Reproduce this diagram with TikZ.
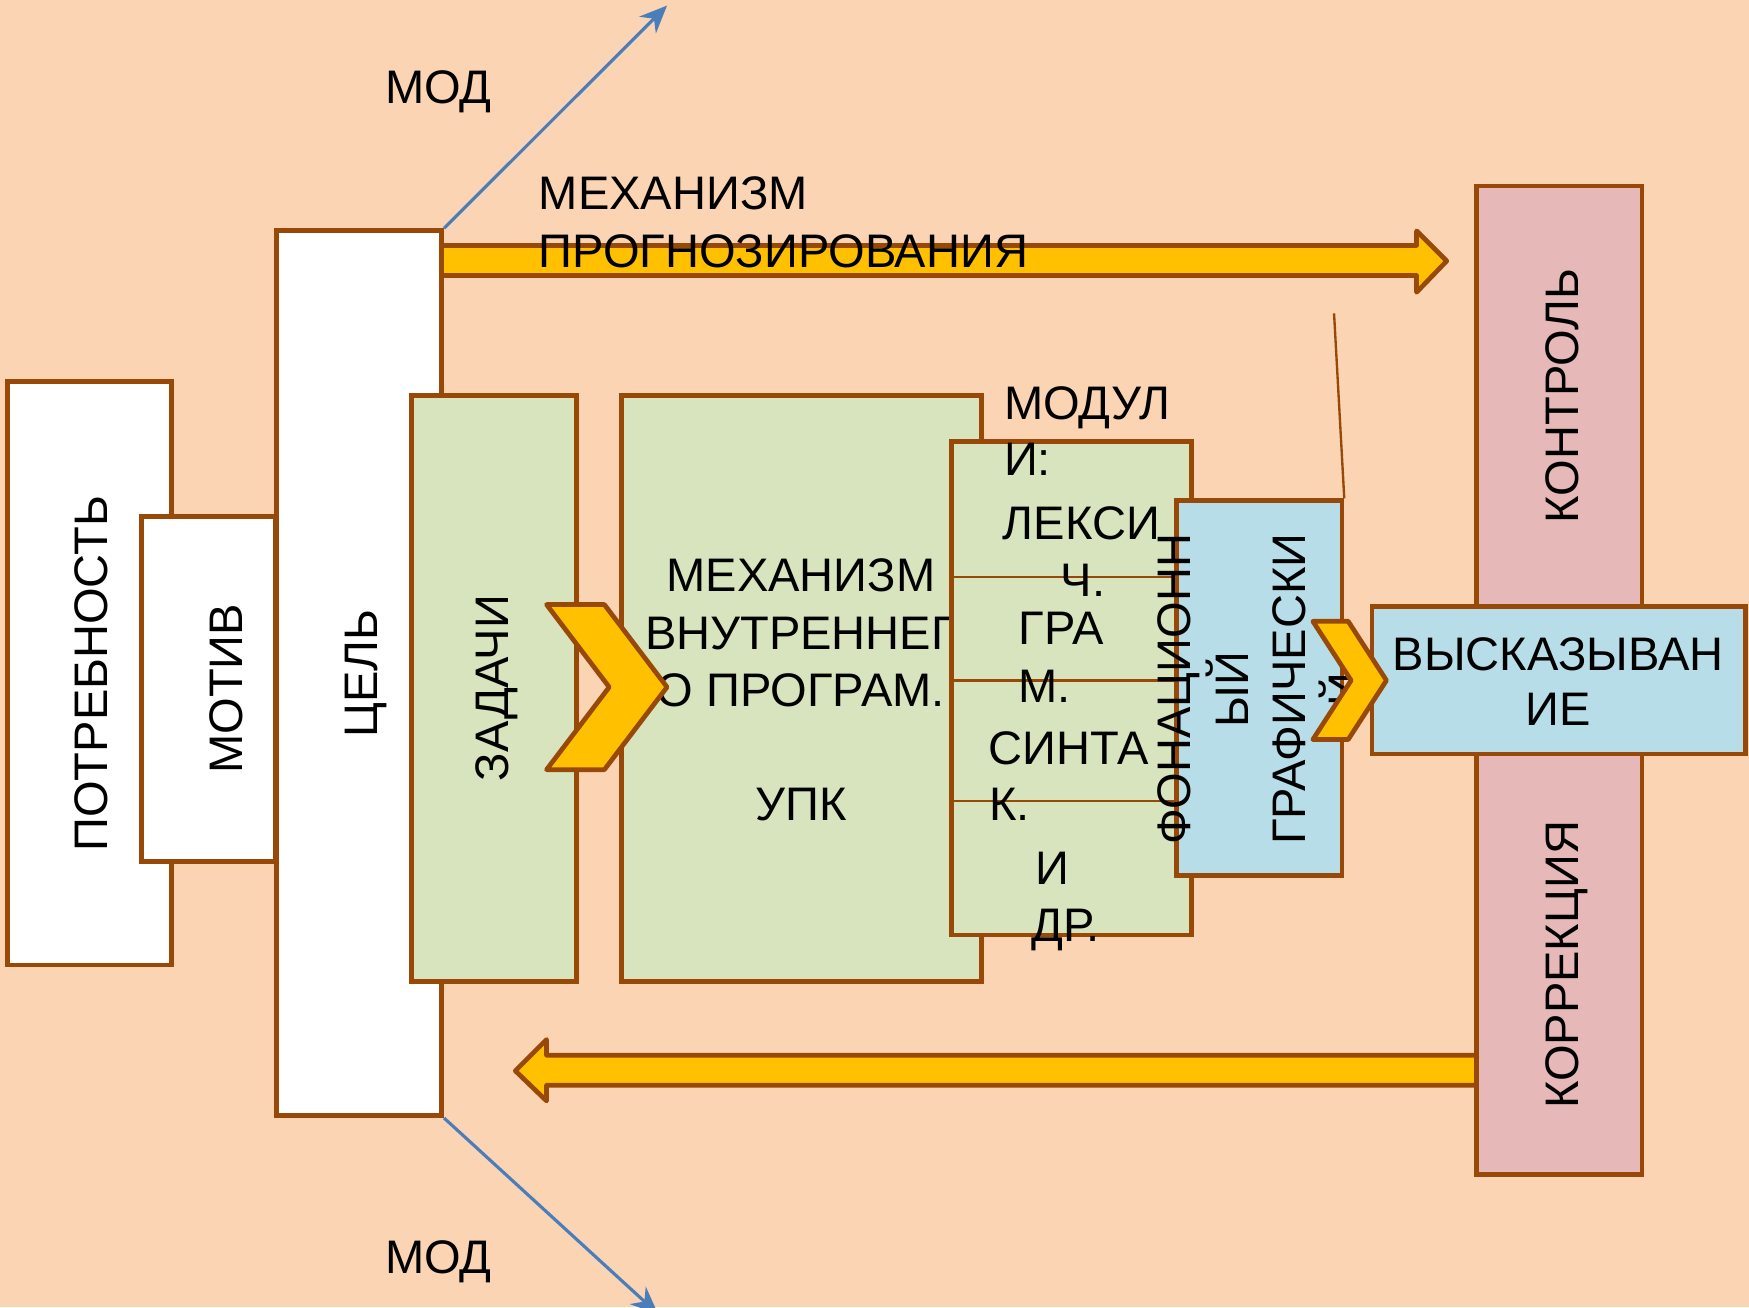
\documentclass[tikz,border=0pt]{standalone}
\usepackage{fontspec}
\setmainfont{Liberation Sans}
\usetikzlibrary{arrows.meta}
\definecolor{peach}{HTML}{FBD4B4}
\definecolor{rust}{HTML}{984807}
\definecolor{sage}{HTML}{D7E4BD}
\definecolor{sky}{HTML}{B7DEE8}
\definecolor{rose}{HTML}{E6B9B8}
\definecolor{amber}{HTML}{FFC000}
\definecolor{steel}{HTML}{4A7EBB}
\newcommand\chevronmark{}
\def\chevronmark{
  \draw [draw=rust, fill=amber, line join=round] (0,0) -- (0.48,0) -- (1,0.5) --
	(0.48,1) -- (0,1) -- (0.52,0.5) -- cycle;
}

\begin{document}
\begin{tikzpicture}[x=0.01cm, y=-0.01cm, line width=1.2pt,
	font=\fontsize{12pt}{14.6pt}\selectfont,
	box/.style={draw=rust, line width=1.2pt, inner sep=0pt},
	word/.style={inner sep=0pt},
	upword/.style={inner sep=0pt, rotate=90, anchor=base}]

% Page
\useasboundingbox (0,0) rectangle (1568,1172);
\fill [peach] (0,0) rectangle (1568,1172);

% Block arrows (drawn first, boxes cover their ends)
\draw [draw=rust, fill=amber, line join=round] (390,220) -- (1270,220) -- (1270,207) --
	(1297,234) -- (1270,262) -- (1270,247) -- (390,247) -- cycle;
\draw [draw=rust, fill=amber, line join=round] (1330,946) -- (490,946) -- (490,932) --
	(462,960) -- (490,987) -- (490,973) -- (1330,973) -- cycle;

% Need, motive, goal
\node[box, fill=white, minimum width=1.47cm, minimum height=5.23cm] (need) at (80.5,603.5) {};
\node[upword] (needtext) at (96,604) {ПОТРЕБНОСТЬ};
\node[box, fill=white, minimum width=1.20cm, minimum height=3.09cm] (motive) at (187,617.5) {};
\node[upword] (motivetext) at (217,617.5) {МОТИВ};
\node[box, fill=white, minimum width=1.48cm, minimum height=7.93cm] (goal) at (322,603.5) {};
\node[upword] (goaltext) at (338,604) {ЦЕЛЬ};

% Forecast label and the two blue branches
\node[word, anchor=base west] (forecast1) at (481,188) {МЕХАНИЗМ};
\node[word, anchor=base west] (forecast2) at (481,240) {ПРОГНОЗИРОВАНИЯ};
\coordinate (modup) at (598,5);
\coordinate (moddown) at (590,1178);
\draw [steel, line width=0.8pt, -{Stealth[length=7pt,width=6pt]}] (goal.north east) -- (modup);
\draw [steel, line width=0.8pt, -{Stealth[length=7pt,width=6pt]}] (goal.south east) -- (moddown);
\node[word, anchor=base] (modtop) at (393,93) {МОД};
\node[word, anchor=base] (modbottom) at (393,1142) {МОД};

% Tasks
\node[box, fill=sage, minimum width=1.48cm, minimum height=5.25cm] (tasks) at (443,617.5) {};
\node[upword] (taskstext) at (456,617) {ЗАДАЧИ};

% Inner programming
\node[box, fill=sage, minimum width=3.23cm, minimum height=5.25cm] (inner) at (718.5,617.5) {};
\foreach \ypos/\word [count=\i] in {530/МЕХАНИЗМ, 582/ВНУТРЕННЕГ, 633/О ПРОГРАМ., 736/УПК}
{
	\node[word, anchor=base] (innerline\i) at (718,\ypos) {\word};
}

% Modules
\node[box, fill=sage, minimum width=2.15cm, minimum height=4.42cm] (modules) at (960.5,617) {};
\foreach \ypos in {517,610,718}
{
	\draw [rust, line width=0.6pt] (855,\ypos) -- (1055,\ypos);
}
\foreach \xpos/\ypos/\word [count=\i] in
{
	898/376/МОДУЛ, 898/426/И:, 897/484/ЛЕКСИ, 949/535/Ч., 911/578/ГРА,
	911/630/М., 884/685/СИНТА, 885/736/К., 926/793/И, 923/844/ДР.
}
{
	\node[word, anchor=base west] (modline\i) at (\xpos,\ypos) {\word};
}

% Phonation / graphic
\node[box, fill=sky, minimum width=1.48cm, minimum height=3.36cm] (phon) at (1129,617) {};
\foreach \xpos/\word [count=\i] in {1067/ФОНАЦИОНН, 1119/ЫЙ, 1170/ГРАФИЧЕСКИ, 1221/Й}
{
	\node[upword] (phonline\i) at (\xpos,618) {\word};
}
\coordinate (stub) at (1196,281);
\draw [rust, line width=0.6pt] (stub) -- (phon.north east);

% Control / correction
\node[box, fill=rose, minimum width=1.48cm, minimum height=8.86cm] (check) at (1398,610) {};
\node[upword] (checktext) at (1415,355) {КОНТРОЛЬ};
\node[upword] (fixtext) at (1415,865) {КОРРЕКЦИЯ};

% Utterance
\node[box, fill=sky, minimum width=3.35cm, minimum height=1.32cm] (utter) at (1397.5,610) {};
\node[word, anchor=base] (utter1) at (1397,601) {ВЫСКАЗЫВАН};
\node[word, anchor=base] (utter2) at (1397,650) {ИЕ};

% Chevrons
\begin{scope}[shift={(490,542)}, xscale=108, yscale=148]
	\chevronmark
\end{scope}
\begin{scope}[shift={(1177,557)}, xscale=66, yscale=106]
	\chevronmark
\end{scope}

\end{tikzpicture}
\end{document}
